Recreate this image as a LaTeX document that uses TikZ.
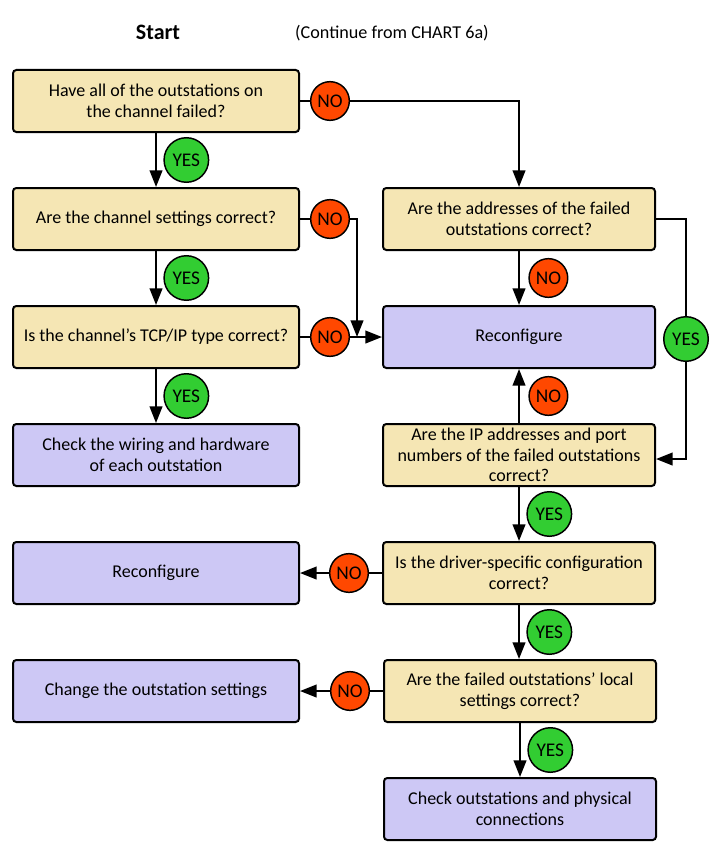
\documentclass[tikz,border=0pt]{standalone}
\usepackage{fontspec}
\setmainfont{Carlito}
\usetikzlibrary{positioning,arrows.meta}
\definecolor{qtan}{RGB}{245,230,180}
\definecolor{actlav}{RGB}{205,200,245}
\definecolor{noorange}{RGB}{255,72,0}
\definecolor{yesgreen}{RGB}{50,205,50}
\begin{document}
\begin{tikzpicture}[
  x=0.75pt, y=-0.75pt,
  question/.style={rectangle, draw, rounded corners=2.5pt, line width=1.5pt, fill=qtan, minimum width=214.5pt, minimum height=46.5pt, inner sep=1pt, align=center, font=\fontsize{13.5}{15.5}\selectfont},
  action/.style={question, fill=actlav},
  yesmark/.style={circle, draw, line width=1.1pt, fill=yesgreen, minimum size=33.4pt, inner sep=0pt, font=\fontsize{14.5}{15}\selectfont},
  nomark/.style={yesmark, fill=noorange, minimum size=29pt},
  link/.style={line width=1.5pt},
  arr/.style={link, -{Triangle[width=9.5pt,length=12.5pt]}},
  node distance=88.5pt
]
\useasboundingbox (0,0) rectangle (721,867);

\node[font=\bfseries\fontsize{16.5}{18}\selectfont] (start) at (158,32) {Start};
\node[font=\fontsize{13.6}{15}\selectfont] (cont) at (392,33) {(Continue from CHART 6a)};

% left column
\node[question] (allfail) at (156,101) {Have all of the outstations on\\the channel failed?};
\node[question, below of=allfail] (chanset) {Are the channel settings correct?};
\node[question, below of=chanset] (tcpip) {Is the channel's TCP/IP type correct?};
\node[action, below of=tcpip] (wiring) {Check the wiring and hardware\\of each outstation};
\node[action, below of=wiring] (recleft) {Reconfigure};
\node[action, below of=recleft] (change) {Change the outstation settings};

% right column
\node[question, right of=chanset, node distance=272.25pt, minimum width=204pt] (addr) {Are the addresses of the failed\\outstations correct?};
\node[action, below of=addr, minimum width=204pt] (reconf) {Reconfigure};
\node[question, below of=reconf, minimum width=204pt] (ippart) {Are the IP addresses and port\\numbers of the failed outstations\\correct?};
\node[question, below of=ippart, minimum width=204pt] (driver) {Is the driver-specific configuration\\correct?};
\node[question, below of=driver, minimum width=204pt, xshift=0.75pt] (local) {Are the failed outstations' local\\settings correct?};
\node[action, below of=local, minimum width=204pt] (check) {Check outstations and physical\\connections};

% NO marks
\node[nomark, right of=allfail, node distance=130.5pt] (no1) {NO};
\node[nomark, right of=chanset, node distance=130.5pt] (no2) {NO};
\node[nomark, right of=tcpip, node distance=130.5pt] (no3) {NO};
\node[nomark, left of=driver, node distance=127.5pt] (no6) {NO};
\node[nomark, left of=local, node distance=127.5pt] (no7) {NO};
\coordinate[left=18.75pt of reconf.west] (merge);

% Arrows
\draw[link] (allfail) -- (no1);
\draw[arr] (no1) -| (addr);
\draw[arr] (allfail) -- node[yesmark, right=5.5pt] (yes1) {YES} (chanset);
\draw[link] (chanset) -- (no2);
\draw[arr] (no2) -| (merge);
\draw[arr] (chanset) -- node[yesmark, right=5.5pt] (yes2) {YES} (tcpip);
\draw[link] (tcpip) -- (no3);
\draw[arr] (no3) -- (reconf);
\draw[arr] (tcpip) -- node[yesmark, right=5.5pt] (yes3) {YES} (wiring);
\draw[arr] (addr) -- node[nomark, right=7pt] (no4) {NO} (reconf);
\draw[arr] (addr.east) -- ++(30,0) |- node[yesmark, pos=0.25] (yes4) {YES} ([yshift=-3pt]ippart.east);
\draw[arr] (ippart) -- node[nomark, right=7pt] (no5) {NO} (reconf);
\draw[arr] (ippart) -- node[yesmark, right=5.5pt] (yes5) {YES} (driver);
\draw[link] (driver) -- (no6);
\draw[arr] (no6) -- (recleft);
\draw[arr] (driver) -- node[yesmark, right=5.5pt] (yes6) {YES} (local.north -| driver);
\draw[link] (local) -- (no7);
\draw[arr] (no7) -- (change);
\draw[arr] (local) -- node[yesmark, right=5.5pt] (yes7) {YES} (check);
\end{tikzpicture}
\end{document}
